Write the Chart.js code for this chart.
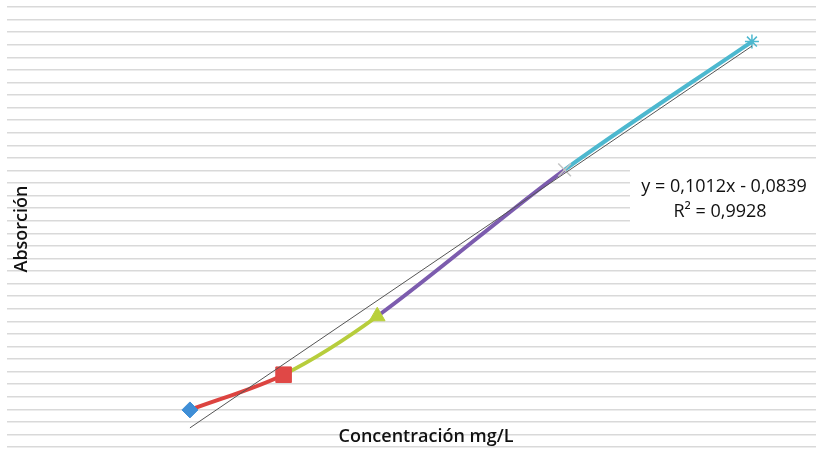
<!DOCTYPE html>
<html>
<head>
<meta charset="utf-8">
<script src="https://cdn.jsdelivr.net/npm/chart.js@4.4.1/dist/chart.umd.min.js"></script>
<style>
    html, body { margin: 0; padding: 0; background: #ffffff; }
    #wrap { width: 816px; height: 449px; position: relative; }
</style>
</head>
<body>
<div id="wrap"><canvas id="calibChart" width="816" height="449"></canvas></div>
<script>
// Calibration data
const concentrations = [1, 2, 3, 5, 7];
const absorbances = [0.039, 0.095, 0.188, 0.421, 0.625];

// Colours of each segment and marker
const segmentColors = ['#dc4440', '#b7cd3c', '#7c5cae', '#4db8cf'];
const markerStyles = ['rectRot', 'rect', 'triangle', 'crossRot', 'star'];
const markerColors = ['#3f8ed6', '#e04846', '#b9d03a', '#c4c4c4', '#4db8cf'];
const markerSizes = [8, 11, 9, 9, 7];

// Labels
const xTitle = 'Concentración mg/L';
const yTitle = 'Absorción';
const equationText = 'y = 0,1012x - 0,0839';
const r2Text = 'R² = 0,9928';

// Least squares trendline from the data
function linearFit(xs, ys) {
    const n = xs.length;
    const mx = xs.reduce((a, b) => a + b, 0) / n;
    const my = ys.reduce((a, b) => a + b, 0) / n;
    let sxy = 0, sxx = 0;
    for (let i = 0; i < n; i++) {
        sxy += (xs[i] - mx) * (ys[i] - my);
        sxx += (xs[i] - mx) * (xs[i] - mx);
    }
    const slope = sxy / sxx;
    return { slope: slope, intercept: my - slope * mx };
}

const fit = linearFit(concentrations, absorbances);
const xFirst = concentrations[0];
const xLast = concentrations[concentrations.length - 1];
const trendPoints = [
    { x: xFirst, y: fit.slope * xFirst + fit.intercept },
    { x: xLast, y: fit.slope * xLast + fit.intercept }
];

// Titles and equation box drawn on top of the plot
const labelsPlugin = {
    id: 'labels',
    afterDraw(chart) {
        const ctx = chart.ctx;
        ctx.save();

        // equation box
        ctx.fillStyle = '#ffffff';
        ctx.fillRect(630, 168, 186, 60);
        ctx.fillStyle = '#111111';
        ctx.font = '18px "Open Sans"';
        ctx.textAlign = 'center';
        ctx.textBaseline = 'middle';
        ctx.fillText(equationText, 724, 187);
        ctx.fillText(r2Text, 720, 212);

        // x title
        ctx.font = '600 18px "Open Sans"';
        ctx.fillText(xTitle, 426, 437);

        // y title
        ctx.translate(22, 229);
        ctx.rotate(-Math.PI / 2);
        ctx.font = '600 18px "Open Sans"';
        ctx.fillText(yTitle, 0, 0);

        ctx.restore();
    }
};

function initChart() {
    const ctx = document.getElementById('calibChart').getContext('2d');

    new Chart(ctx, {
        type: 'line',
        data: {
            datasets: [{
                label: 'Trendline',
                data: trendPoints,
                borderColor: '#555555',
                borderWidth: 1,
                pointRadius: 0,
                fill: false,
                order: 0
            }, {
                label: 'Absorción',
                data: concentrations.map((c, i) => ({ x: c, y: absorbances[i] })),
                borderWidth: 4,
                tension: 0.3,
                fill: false,
                segment: {
                    borderColor: (c) => segmentColors[c.p0DataIndex]
                },
                pointStyle: markerStyles,
                pointRadius: markerSizes,
                pointBackgroundColor: markerColors,
                pointBorderColor: markerColors,
                pointBorderWidth: [1, 1, 1, 1.5, 1.5],
                order: 1
            }]
        },
        options: {
            responsive: false,
            animation: false,
            layout: {
                autoPadding: false,
                padding: { left: 7, top: 7, right: 0, bottom: 2 }
            },
            plugins: {
                legend: { display: false },
                tooltip: { enabled: false }
            },
            scales: {
                x: {
                    type: 'linear',
                    display: false,
                    min: -0.953,
                    max: 7.684
                },
                y: {
                    type: 'linear',
                    min: -0.02,
                    max: 0.68,
                    border: { display: false },
                    ticks: { display: false, stepSize: 0.02 },
                    grid: {
                        color: '#d9d9d9',
                        lineWidth: 1.5,
                        drawTicks: false
                    },
                    afterFit: (scale) => { scale.width = 0; }
                }
            }
        },
        plugins: [labelsPlugin]
    });
}

initChart();
</script>
</body>
</html>
